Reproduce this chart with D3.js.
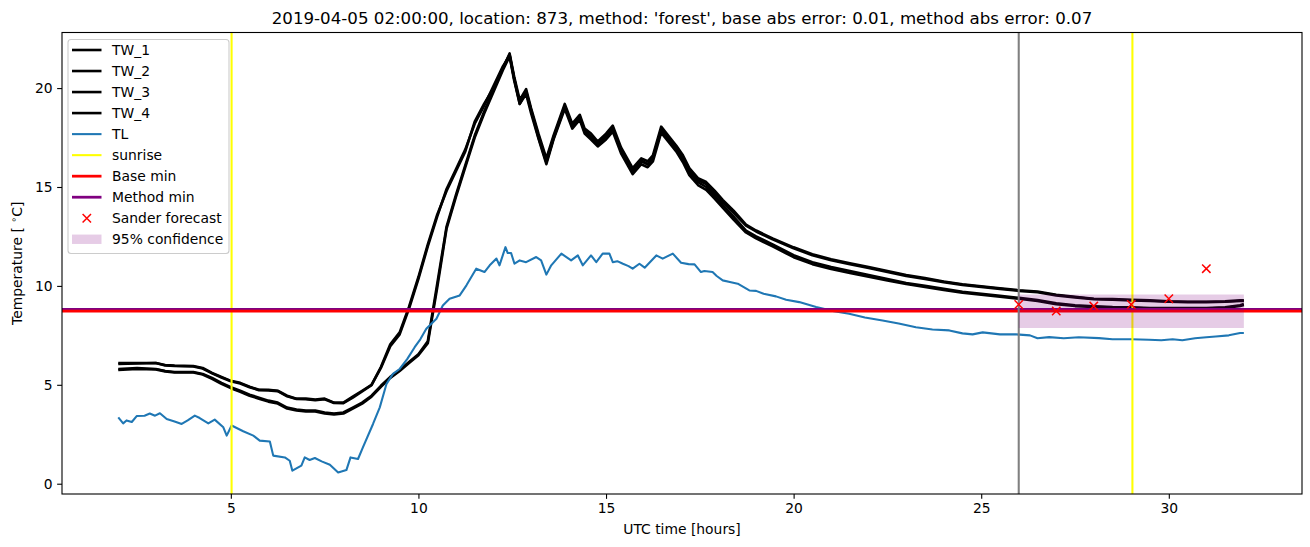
<!DOCTYPE html>
<html><head><meta charset="utf-8">
<script src="https://cdn.jsdelivr.net/npm/d3@7"></script>
<style>body{margin:0;background:#fff}svg{display:block;font-family:"DejaVu Sans",sans-serif}</style>
</head><body><svg id="c" width="1310" height="547"></svg>
<script>
const twHours=[2.0,2.5,3.0,3.25,3.5,4.0,4.25,4.5,4.75,5.0,
5.25,5.5,5.75,6.0,6.25,6.5,6.75,7.0,7.25,7.5,
7.75,8.0,8.25,8.5,8.75,9.0,9.25,9.5,9.75,10.0,
10.25,10.5,10.75,11.0,11.25,11.5,11.75,12.0,12.25,12.43,
12.55,12.7,12.87,13.0,13.2,13.41,13.6,13.9,14.1,14.3,
14.43,14.6,14.78,15.0,15.18,15.4,15.71,15.94,16.11,16.25,
16.47,16.7,16.87,17.05,17.22,17.45,17.67,17.9,18.11,18.4,
18.73,19.0,19.44,20.0,20.5,21.0,21.5,22.0,22.5,23.0,
23.5,24.0,24.5,25.0,25.5,26.0,26.5,27.0,27.5,28.0,
28.5,29.0,29.5,30.0,30.5,31.0,31.5,31.9,32.0];
const TW_1=[6.1,6.1,6.1,6.0,5.97,5.95,5.85,5.6,5.4,5.2,
5.1,4.9,4.75,4.75,4.7,4.45,4.3,4.3,4.25,4.3,
4.1,4.1,4.4,4.7,5.0,5.9,7.05,7.65,8.95,10.45,
12.1,13.6,14.8,15.8,16.8,18.3,19.2,20.0,21.0,21.75,
20.6,19.4,19.95,19.0,17.7,16.45,17.6,19.2,18.2,18.65,
17.95,17.7,17.3,17.7,18.1,17.0,15.95,16.45,16.3,16.6,
18.05,17.5,17.1,16.6,15.95,15.45,15.25,14.8,14.35,13.8,
13.1,12.8,12.4,11.95,11.6,11.35,11.15,10.95,10.75,10.55,
10.4,10.22,10.08,9.98,9.88,9.78,9.72,9.55,9.45,9.35,
9.33,9.3,9.27,9.22,9.2,9.2,9.22,9.27,9.27];
const TW_2=[6.05,6.08,6.1,5.98,5.95,5.93,5.82,5.58,5.37,5.18,
5.07,4.88,4.73,4.72,4.68,4.42,4.28,4.27,4.22,4.27,
4.08,4.07,4.35,4.66,4.98,5.85,6.95,7.55,8.85,10.35,
12.0,13.5,14.9,15.9,16.9,18.2,19.1,20.1,21.1,21.65,
20.5,19.2,19.8,18.9,17.5,16.25,17.45,19.05,18.05,18.5,
17.8,17.5,17.15,17.55,17.95,16.85,15.8,16.35,16.15,16.5,
17.9,17.4,16.95,16.45,15.8,15.35,15.15,14.7,14.25,13.7,
13.05,12.75,12.35,11.9,11.55,11.3,11.1,10.9,10.7,10.5,
10.35,10.19,10.05,9.95,9.85,9.75,9.68,9.52,9.42,9.33,
9.3,9.27,9.24,9.2,9.18,9.18,9.2,9.24,9.24];
const TW_3=[5.8,5.85,5.8,5.7,5.65,5.65,5.55,5.35,5.1,4.88,
4.7,4.5,4.35,4.2,4.1,3.85,3.75,3.7,3.7,3.6,
3.55,3.6,3.85,4.1,4.45,4.95,5.4,5.75,6.15,6.55,
7.2,10.1,13.0,14.6,16.1,17.6,18.8,19.9,21.0,21.7,
20.5,19.3,19.85,18.9,17.6,16.3,17.5,19.1,18.1,18.55,
17.85,17.55,17.2,17.55,17.95,16.85,15.8,16.3,16.15,16.45,
17.9,17.35,16.95,16.4,15.75,15.25,15.0,14.55,14.1,13.5,
12.8,12.5,12.1,11.55,11.2,10.95,10.75,10.55,10.35,10.15,
10.0,9.85,9.7,9.6,9.5,9.4,9.28,9.12,9.02,8.97,
8.93,8.92,8.88,8.88,8.88,8.88,8.92,9.02,9.08];
const TW_4=[5.75,5.8,5.78,5.68,5.62,5.62,5.52,5.3,5.05,4.83,
4.65,4.45,4.3,4.15,4.05,3.8,3.7,3.65,3.65,3.55,
3.5,3.55,3.8,4.05,4.4,4.9,5.35,5.7,6.1,6.5,
7.1,9.9,12.9,14.5,16.0,17.5,18.7,19.8,20.9,21.6,
20.4,19.2,19.7,18.75,17.45,16.15,17.4,18.95,17.95,18.4,
17.7,17.4,17.05,17.4,17.8,16.7,15.65,16.15,16.0,16.3,
17.75,17.2,16.8,16.25,15.6,15.1,14.85,14.4,13.95,13.35,
12.7,12.4,12.0,11.45,11.1,10.85,10.65,10.47,10.28,10.1,
9.95,9.8,9.65,9.55,9.45,9.35,9.24,9.08,8.98,8.94,
8.9,8.89,8.85,8.85,8.85,8.85,8.89,8.98,9.04];
const tlHours=[2.0,2.13,2.22,2.36,2.49,2.7,2.84,2.98,3.11,3.29,3.5,3.69,3.85,4.04,4.17,4.4,4.57,4.8,4.89,5.02,
5.33,5.6,5.77,6.04,6.13,6.44,6.57,6.64,6.88,6.97,7.1,7.24,7.42,7.64,7.86,8.08,8.19,8.39,8.52,8.79,
8.97,9.15,9.32,9.5,9.7,9.9,10.05,10.21,10.48,10.65,10.83,11.1,11.28,11.54,11.76,11.9,12.08,12.16,12.32,12.38,
12.47,12.56,12.7,12.87,13.14,13.27,13.41,13.54,13.81,14.07,14.25,14.38,14.6,14.74,14.91,15.09,15.18,15.3,15.45,15.6,
15.71,15.89,16.03,16.34,16.51,16.78,17.0,17.2,17.36,17.53,17.62,17.84,17.95,18.11,18.3,18.51,18.82,19.0,19.2,19.53,
19.8,20.15,20.6,21.0,21.48,21.9,22.37,22.8,23.26,23.7,24.15,24.5,24.77,25.04,25.5,25.93,26.3,26.5,26.81,27.2,
27.6,28.14,28.5,29.0,29.47,29.8,30.1,30.36,30.7,31.0,31.25,31.6,31.9,32.0];
const TL=[3.35,3.05,3.2,3.12,3.42,3.44,3.55,3.44,3.56,3.27,3.15,3.02,3.2,3.44,3.32,3.05,3.24,2.85,2.43,2.94,
2.65,2.43,2.18,2.13,1.42,1.33,1.16,0.66,0.91,1.33,1.2,1.3,1.13,0.96,0.57,0.69,1.33,1.25,1.84,3.02,
3.86,5.05,5.55,5.8,6.3,6.9,7.3,7.83,8.34,9.01,9.35,9.52,10.03,10.87,10.7,11.04,11.38,11.04,11.96,11.66,
11.66,11.12,11.29,11.2,11.46,11.29,10.57,11.04,11.63,11.29,11.54,11.04,11.54,11.2,11.63,11.63,11.2,11.25,11.12,11.0,
10.87,11.12,10.92,11.54,11.38,11.63,11.17,11.1,11.09,10.7,10.75,10.7,10.5,10.28,10.2,10.11,9.77,9.75,9.6,9.47,
9.3,9.18,8.93,8.75,8.59,8.4,8.25,8.1,7.91,7.8,7.75,7.6,7.55,7.65,7.55,7.55,7.5,7.35,7.41,7.35,
7.4,7.36,7.3,7.3,7.28,7.25,7.3,7.25,7.35,7.4,7.44,7.5,7.62,7.62];
const sunriseHours=[5.02,29.03];
const forecastStart=26;
const baseMin=8.72;
const methodMin=8.81;
const sanderHours=[26,27,28,29,30,31];
const sanderValues=[9.06,8.73,8.98,9.06,9.35,10.87];
const confHours=[26,32];
const confLower=[7.87,7.87];
const confUpper=[9.57,9.57];
const xTicks=[5,10,15,20,25,30];
const yTicks=[0,5,10,15,20];
const titleText="2019-04-05 02:00:00, location: 873, method: 'forest', base abs error: 0.01, method abs error: 0.07";

const L=62,R=1302,T=32.5,B=494;
const svg=d3.select("#c");
const x=d3.scaleLinear().domain([0.5,33.55]).range([L,R]);
const y=d3.scaleLinear().domain([-0.52,22.81]).range([B,T]);

svg.append("defs").append("clipPath").attr("id","clip").append("rect").attr("x",L).attr("y",T).attr("width",R-L).attr("height",B-T);
const g=svg.append("g").attr("clip-path","url(#clip)");

const line=d3.line().x(d=>x(d[0])).y(d=>y(d[1]));
[TW_1,TW_2,TW_3,TW_4].forEach(s=>{
  g.append("path").attr("d",line(twHours.map((h,i)=>[h,s[i]]))).attr("fill","none").attr("stroke","#000").attr("stroke-width",2.6).attr("stroke-linejoin","round");
});
g.append("path").attr("d",line(tlHours.map((h,i)=>[h,TL[i]]))).attr("fill","none").attr("stroke","#1f77b4").attr("stroke-width",2.08).attr("stroke-linejoin","round");
sunriseHours.forEach(h=>g.append("line").attr("x1",x(h)).attr("x2",x(h)).attr("y1",T).attr("y2",B).attr("stroke","#ffff00").attr("stroke-width",2.08));
g.append("line").attr("x1",L).attr("x2",R).attr("y1",y(methodMin)).attr("y2",y(methodMin)).attr("stroke","#800080").attr("stroke-width",2.78);
g.append("line").attr("x1",L).attr("x2",R).attr("y1",y(baseMin)).attr("y2",y(baseMin)).attr("stroke","#ff0000").attr("stroke-width",2.78);
g.append("line").attr("x1",x(forecastStart)).attr("x2",x(forecastStart)).attr("y1",T).attr("y2",B).attr("stroke","#808080").attr("stroke-width",2.08);
const area=d3.area().x(d=>x(d[0])).y0(d=>y(d[1])).y1(d=>y(d[2]));
g.append("path").attr("d",area(confHours.map((h,i)=>[h,confLower[i],confUpper[i]]))).attr("fill","#800080").attr("fill-opacity",0.2);
function xmark(sel,cx,cy){const r=4.2;sel.append("path").attr("d",`M${cx-r},${cy-r}L${cx+r},${cy+r}M${cx-r},${cy+r}L${cx+r},${cy-r}`).attr("stroke","#ff0000").attr("stroke-width",1.5).attr("fill","none");}
sanderHours.forEach((h,i)=>xmark(g,x(h),y(sanderValues[i])));

// axes
const xa=svg.append("g").attr("transform",`translate(0,${B})`).call(d3.axisBottom(x).tickValues(xTicks).tickSize(4.86).tickPadding(4.5).tickFormat(d3.format("d")));
const ya=svg.append("g").attr("transform",`translate(${L},0)`).call(d3.axisLeft(y).tickValues(yTicks).tickSize(4.86).tickPadding(4.5).tickFormat(d3.format("d")));
[xa,ya].forEach(a=>{a.select(".domain").remove();a.selectAll("line").attr("stroke","#000").attr("stroke-width",1.1);a.selectAll("text").attr("font-family","DejaVu Sans").attr("font-size",13.89).attr("fill","#000");});
svg.append("rect").attr("x",L).attr("y",T).attr("width",R-L).attr("height",B-T).attr("fill","none").attr("stroke","#000").attr("stroke-width",1.1);

svg.append("text").attr("x",(L+R)/2).attr("y",24).attr("text-anchor","middle").attr("font-size",16.67).text(titleText);
svg.append("text").attr("x",(L+R)/2).attr("y",534).attr("text-anchor","middle").attr("font-size",13.89).text("UTC time [hours]");
const yl=svg.append("text").attr("transform",`translate(22,${(T+B)/2}) rotate(-90)`).attr("text-anchor","middle").attr("font-size",13.89);
yl.append("tspan").text("Temperature [ ");
yl.append("tspan").attr("dy",-5).attr("font-size",9.7).text("∘");
yl.append("tspan").attr("dy",5).text("C]");

// legend
const leg=svg.append("g");
leg.append("rect").attr("x",68).attr("y",39.5).attr("width",161).attr("height",214).attr("rx",3).attr("fill","#fff").attr("fill-opacity",0.8).attr("stroke","#cccccc").attr("stroke-width",1.1);
const items=[["TW_1","line","#000",2.6],["TW_2","line","#000",2.6],["TW_3","line","#000",2.6],["TW_4","line","#000",2.6],["TL","line","#1f77b4",2.08],["sunrise","line","#ffff00",2.08],["Base min","line","#ff0000",2.78],["Method min","line","#800080",2.78],["Sander forecast","x","#ff0000",1.5],["95% confidence","patch","#800080",0]];
items.forEach((it,i)=>{
  const cy=50+i*21.03;
  if(it[1]==="line") leg.append("line").attr("x1",72).attr("x2",101.5).attr("y1",cy).attr("y2",cy).attr("stroke",it[2]).attr("stroke-width",it[3]);
  else if(it[1]==="x") xmark(leg,86.8,cy);
  else leg.append("rect").attr("x",72).attr("y",cy-4.7).attr("width",29.5).attr("height",9.4).attr("fill",it[2]).attr("fill-opacity",0.2);
  leg.append("text").attr("x",112).attr("y",cy+5).attr("font-size",13.89).text(it[0]);
});
</script></body></html>
